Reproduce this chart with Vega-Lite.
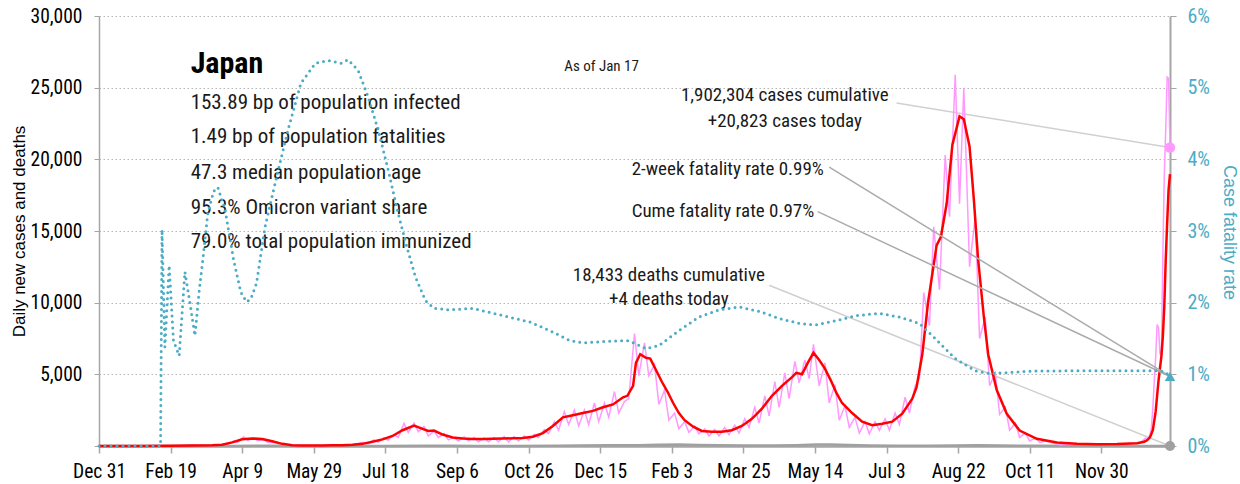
{
  "$schema": "https://vega.github.io/schema/vega-lite/v6.json",
  "width": 1071,
  "height": 430,
  "autosize": "none",
  "padding": {"left": 99, "top": 16, "right": 70, "bottom": 38},
  "background": "white",
  "config": {
    "view": {"stroke": null},
    "font": "Roboto Condensed",
    "axis": {"labelFont": "Roboto Condensed", "titleFont": "Liberation Sans"}
  },
  "datasets": {
    "avg": [
      {"date": "2019-12-31", "value": 0},
      {"date": "2020-01-29", "value": 1},
      {"date": "2020-02-19", "value": 10},
      {"date": "2020-03-05", "value": 35},
      {"date": "2020-03-19", "value": 45},
      {"date": "2020-03-26", "value": 90},
      {"date": "2020-04-02", "value": 250},
      {"date": "2020-04-09", "value": 470},
      {"date": "2020-04-16", "value": 520},
      {"date": "2020-04-23", "value": 490},
      {"date": "2020-04-30", "value": 330},
      {"date": "2020-05-07", "value": 150},
      {"date": "2020-05-14", "value": 60},
      {"date": "2020-05-21", "value": 35},
      {"date": "2020-05-28", "value": 30},
      {"date": "2020-06-04", "value": 40},
      {"date": "2020-06-11", "value": 45},
      {"date": "2020-06-18", "value": 50},
      {"date": "2020-06-25", "value": 80},
      {"date": "2020-07-02", "value": 150},
      {"date": "2020-07-09", "value": 300},
      {"date": "2020-07-16", "value": 460},
      {"date": "2020-07-23", "value": 700},
      {"date": "2020-07-30", "value": 1100},
      {"date": "2020-08-07", "value": 1420},
      {"date": "2020-08-13", "value": 1200},
      {"date": "2020-08-17", "value": 1050},
      {"date": "2020-08-21", "value": 1080},
      {"date": "2020-08-27", "value": 800},
      {"date": "2020-09-03", "value": 600},
      {"date": "2020-09-10", "value": 520},
      {"date": "2020-09-17", "value": 480},
      {"date": "2020-09-24", "value": 480},
      {"date": "2020-10-01", "value": 500},
      {"date": "2020-10-08", "value": 520},
      {"date": "2020-10-15", "value": 540},
      {"date": "2020-10-22", "value": 560},
      {"date": "2020-10-29", "value": 650},
      {"date": "2020-11-05", "value": 900},
      {"date": "2020-11-12", "value": 1400},
      {"date": "2020-11-19", "value": 2000},
      {"date": "2020-11-26", "value": 2150},
      {"date": "2020-12-03", "value": 2300},
      {"date": "2020-12-10", "value": 2450},
      {"date": "2020-12-17", "value": 2700},
      {"date": "2020-12-24", "value": 2900},
      {"date": "2020-12-31", "value": 3400},
      {"date": "2021-01-03", "value": 3500},
      {"date": "2021-01-07", "value": 4200},
      {"date": "2021-01-09", "value": 5800},
      {"date": "2021-01-12", "value": 6400},
      {"date": "2021-01-16", "value": 6150},
      {"date": "2021-01-19", "value": 6100},
      {"date": "2021-01-23", "value": 5300},
      {"date": "2021-01-27", "value": 4500},
      {"date": "2021-01-31", "value": 3800},
      {"date": "2021-02-04", "value": 3000},
      {"date": "2021-02-08", "value": 2300},
      {"date": "2021-02-12", "value": 1800},
      {"date": "2021-02-18", "value": 1350},
      {"date": "2021-02-24", "value": 1050},
      {"date": "2021-03-03", "value": 1000},
      {"date": "2021-03-10", "value": 1000},
      {"date": "2021-03-17", "value": 1100},
      {"date": "2021-03-24", "value": 1400},
      {"date": "2021-03-31", "value": 1900},
      {"date": "2021-04-07", "value": 2600},
      {"date": "2021-04-14", "value": 3500},
      {"date": "2021-04-21", "value": 4200},
      {"date": "2021-04-28", "value": 4800},
      {"date": "2021-05-01", "value": 5100},
      {"date": "2021-05-05", "value": 5000},
      {"date": "2021-05-09", "value": 5800},
      {"date": "2021-05-13", "value": 6500},
      {"date": "2021-05-17", "value": 6000},
      {"date": "2021-05-21", "value": 5400},
      {"date": "2021-05-25", "value": 4600},
      {"date": "2021-05-29", "value": 3700},
      {"date": "2021-06-02", "value": 3000},
      {"date": "2021-06-09", "value": 2300},
      {"date": "2021-06-16", "value": 1700},
      {"date": "2021-06-23", "value": 1450},
      {"date": "2021-06-30", "value": 1550},
      {"date": "2021-07-07", "value": 1700},
      {"date": "2021-07-14", "value": 2250},
      {"date": "2021-07-21", "value": 3300},
      {"date": "2021-07-24", "value": 4100},
      {"date": "2021-07-28", "value": 6400},
      {"date": "2021-08-01", "value": 10000},
      {"date": "2021-08-07", "value": 14000},
      {"date": "2021-08-10", "value": 14600},
      {"date": "2021-08-14", "value": 16900},
      {"date": "2021-08-18", "value": 21000},
      {"date": "2021-08-23", "value": 23000},
      {"date": "2021-08-26", "value": 22800},
      {"date": "2021-08-30", "value": 20900},
      {"date": "2021-09-02", "value": 17200},
      {"date": "2021-09-05", "value": 13000},
      {"date": "2021-09-09", "value": 9000},
      {"date": "2021-09-12", "value": 6400},
      {"date": "2021-09-18", "value": 3900},
      {"date": "2021-09-25", "value": 2250},
      {"date": "2021-10-04", "value": 1080},
      {"date": "2021-10-16", "value": 500},
      {"date": "2021-10-30", "value": 250},
      {"date": "2021-11-13", "value": 150},
      {"date": "2021-11-27", "value": 120},
      {"date": "2021-12-11", "value": 140},
      {"date": "2021-12-25", "value": 200},
      {"date": "2021-12-30", "value": 300},
      {"date": "2022-01-01", "value": 400},
      {"date": "2022-01-03", "value": 600},
      {"date": "2022-01-05", "value": 1100},
      {"date": "2022-01-07", "value": 2410},
      {"date": "2022-01-08", "value": 3511},
      {"date": "2022-01-09", "value": 4586},
      {"date": "2022-01-10", "value": 5436},
      {"date": "2022-01-11", "value": 6276},
      {"date": "2022-01-12", "value": 7640},
      {"date": "2022-01-13", "value": 9698},
      {"date": "2022-01-14", "value": 12925},
      {"date": "2022-01-15", "value": 15535},
      {"date": "2022-01-16", "value": 17880},
      {"date": "2022-01-17", "value": 18964}
    ],
    "daily": [
      {"date": "2019-12-31", "value": 0},
      {"date": "2020-01-16", "value": 1},
      {"date": "2020-02-14", "value": 8},
      {"date": "2020-02-28", "value": 20},
      {"date": "2020-03-06", "value": 55},
      {"date": "2020-03-13", "value": 50},
      {"date": "2020-03-20", "value": 40},
      {"date": "2020-03-27", "value": 120},
      {"date": "2020-03-30", "value": 90},
      {"date": "2020-04-03", "value": 350},
      {"date": "2020-04-06", "value": 250},
      {"date": "2020-04-10", "value": 650},
      {"date": "2020-04-13", "value": 380},
      {"date": "2020-04-17", "value": 580},
      {"date": "2020-04-20", "value": 370},
      {"date": "2020-04-24", "value": 440},
      {"date": "2020-04-27", "value": 250},
      {"date": "2020-05-01", "value": 260},
      {"date": "2020-05-11", "value": 60},
      {"date": "2020-05-25", "value": 25},
      {"date": "2020-06-12", "value": 60},
      {"date": "2020-06-26", "value": 100},
      {"date": "2020-07-03", "value": 250},
      {"date": "2020-07-06", "value": 150},
      {"date": "2020-07-10", "value": 430},
      {"date": "2020-07-13", "value": 250},
      {"date": "2020-07-17", "value": 590},
      {"date": "2020-07-20", "value": 420},
      {"date": "2020-07-24", "value": 770},
      {"date": "2020-07-27", "value": 600},
      {"date": "2020-07-31", "value": 1580},
      {"date": "2020-08-03", "value": 950},
      {"date": "2020-08-07", "value": 1600},
      {"date": "2020-08-10", "value": 1000},
      {"date": "2020-08-14", "value": 1360},
      {"date": "2020-08-17", "value": 700},
      {"date": "2020-08-21", "value": 1040},
      {"date": "2020-08-24", "value": 600},
      {"date": "2020-08-28", "value": 870},
      {"date": "2020-08-31", "value": 430},
      {"date": "2020-09-04", "value": 600},
      {"date": "2020-09-07", "value": 350},
      {"date": "2020-09-11", "value": 650},
      {"date": "2020-09-14", "value": 350},
      {"date": "2020-09-18", "value": 590},
      {"date": "2020-09-21", "value": 300},
      {"date": "2020-09-25", "value": 560},
      {"date": "2020-09-28", "value": 300},
      {"date": "2020-10-02", "value": 600},
      {"date": "2020-10-05", "value": 300},
      {"date": "2020-10-09", "value": 660},
      {"date": "2020-10-12", "value": 290},
      {"date": "2020-10-16", "value": 660},
      {"date": "2020-10-19", "value": 350},
      {"date": "2020-10-23", "value": 700},
      {"date": "2020-10-26", "value": 420},
      {"date": "2020-10-30", "value": 810},
      {"date": "2020-11-02", "value": 600},
      {"date": "2020-11-06", "value": 1150},
      {"date": "2020-11-09", "value": 870},
      {"date": "2020-11-13", "value": 1700},
      {"date": "2020-11-16", "value": 1100},
      {"date": "2020-11-20", "value": 2400},
      {"date": "2020-11-23", "value": 1500},
      {"date": "2020-11-27", "value": 2500},
      {"date": "2020-11-30", "value": 1400},
      {"date": "2020-12-04", "value": 2500},
      {"date": "2020-12-07", "value": 1500},
      {"date": "2020-12-11", "value": 3000},
      {"date": "2020-12-14", "value": 1700},
      {"date": "2020-12-18", "value": 3000},
      {"date": "2020-12-21", "value": 2000},
      {"date": "2020-12-25", "value": 3800},
      {"date": "2020-12-28", "value": 2300},
      {"date": "2021-01-01", "value": 3100},
      {"date": "2021-01-04", "value": 3300},
      {"date": "2021-01-08", "value": 7850},
      {"date": "2021-01-11", "value": 4900},
      {"date": "2021-01-15", "value": 7200},
      {"date": "2021-01-18", "value": 4900},
      {"date": "2021-01-22", "value": 5700},
      {"date": "2021-01-25", "value": 2900},
      {"date": "2021-01-29", "value": 3900},
      {"date": "2021-02-01", "value": 1800},
      {"date": "2021-02-05", "value": 2300},
      {"date": "2021-02-08", "value": 1200},
      {"date": "2021-02-12", "value": 1700},
      {"date": "2021-02-15", "value": 950},
      {"date": "2021-02-19", "value": 1400},
      {"date": "2021-02-22", "value": 850},
      {"date": "2021-02-26", "value": 1200},
      {"date": "2021-03-01", "value": 700},
      {"date": "2021-03-05", "value": 1150},
      {"date": "2021-03-08", "value": 700},
      {"date": "2021-03-12", "value": 1300},
      {"date": "2021-03-15", "value": 800},
      {"date": "2021-03-19", "value": 1450},
      {"date": "2021-03-22", "value": 900},
      {"date": "2021-03-26", "value": 1900},
      {"date": "2021-03-29", "value": 1300},
      {"date": "2021-04-02", "value": 2700},
      {"date": "2021-04-05", "value": 1600},
      {"date": "2021-04-09", "value": 3500},
      {"date": "2021-04-12", "value": 2100},
      {"date": "2021-04-16", "value": 4500},
      {"date": "2021-04-19", "value": 2700},
      {"date": "2021-04-23", "value": 5100},
      {"date": "2021-04-26", "value": 3300},
      {"date": "2021-04-30", "value": 5900},
      {"date": "2021-05-03", "value": 4400},
      {"date": "2021-05-07", "value": 6000},
      {"date": "2021-05-10", "value": 4700},
      {"date": "2021-05-13", "value": 7100},
      {"date": "2021-05-17", "value": 4200},
      {"date": "2021-05-21", "value": 5800},
      {"date": "2021-05-24", "value": 3000},
      {"date": "2021-05-28", "value": 4300},
      {"date": "2021-05-31", "value": 1800},
      {"date": "2021-06-04", "value": 2800},
      {"date": "2021-06-07", "value": 1300},
      {"date": "2021-06-11", "value": 2000},
      {"date": "2021-06-14", "value": 900},
      {"date": "2021-06-18", "value": 1700},
      {"date": "2021-06-21", "value": 850},
      {"date": "2021-06-25", "value": 1700},
      {"date": "2021-06-28", "value": 1100},
      {"date": "2021-07-02", "value": 1900},
      {"date": "2021-07-05", "value": 1100},
      {"date": "2021-07-09", "value": 2300},
      {"date": "2021-07-12", "value": 1500},
      {"date": "2021-07-16", "value": 3400},
      {"date": "2021-07-19", "value": 2300},
      {"date": "2021-07-23", "value": 4200},
      {"date": "2021-07-26", "value": 4700},
      {"date": "2021-07-29", "value": 10700},
      {"date": "2021-08-02", "value": 8400},
      {"date": "2021-08-05", "value": 15300},
      {"date": "2021-08-09", "value": 10900},
      {"date": "2021-08-13", "value": 20300},
      {"date": "2021-08-16", "value": 16000},
      {"date": "2021-08-20", "value": 25900},
      {"date": "2021-08-23", "value": 16900},
      {"date": "2021-08-26", "value": 25000},
      {"date": "2021-08-30", "value": 12500},
      {"date": "2021-09-03", "value": 16000},
      {"date": "2021-09-06", "value": 7500},
      {"date": "2021-09-10", "value": 9000},
      {"date": "2021-09-13", "value": 4200},
      {"date": "2021-09-17", "value": 5100},
      {"date": "2021-09-20", "value": 2200},
      {"date": "2021-09-24", "value": 2700},
      {"date": "2021-09-27", "value": 1100},
      {"date": "2021-10-01", "value": 1600},
      {"date": "2021-10-04", "value": 600},
      {"date": "2021-10-08", "value": 900},
      {"date": "2021-10-11", "value": 350},
      {"date": "2021-10-15", "value": 550},
      {"date": "2021-10-18", "value": 250},
      {"date": "2021-10-22", "value": 340},
      {"date": "2021-11-01", "value": 90},
      {"date": "2021-11-19", "value": 150},
      {"date": "2021-12-10", "value": 120},
      {"date": "2021-12-24", "value": 200},
      {"date": "2021-12-27", "value": 200},
      {"date": "2021-12-31", "value": 550},
      {"date": "2022-01-01", "value": 450},
      {"date": "2022-01-03", "value": 782},
      {"date": "2022-01-04", "value": 1265},
      {"date": "2022-01-05", "value": 2638},
      {"date": "2022-01-06", "value": 4475},
      {"date": "2022-01-07", "value": 6214},
      {"date": "2022-01-08", "value": 8480},
      {"date": "2022-01-09", "value": 8249},
      {"date": "2022-01-10", "value": 6438},
      {"date": "2022-01-11", "value": 6378},
      {"date": "2022-01-12", "value": 13244},
      {"date": "2022-01-13", "value": 18860},
      {"date": "2022-01-14", "value": 22045},
      {"date": "2022-01-15", "value": 25742},
      {"date": "2022-01-16", "value": 25655},
      {"date": "2022-01-17", "value": 20823}
    ],
    "deaths": [
      {"date": "2019-12-31", "value": 0},
      {"date": "2020-04-01", "value": 2},
      {"date": "2020-04-20", "value": 20},
      {"date": "2020-05-05", "value": 25},
      {"date": "2020-05-20", "value": 8},
      {"date": "2020-06-15", "value": 2},
      {"date": "2020-07-15", "value": 1},
      {"date": "2020-08-15", "value": 10},
      {"date": "2020-09-01", "value": 15},
      {"date": "2020-09-20", "value": 8},
      {"date": "2020-10-15", "value": 6},
      {"date": "2020-11-15", "value": 10},
      {"date": "2020-12-01", "value": 30},
      {"date": "2020-12-20", "value": 45},
      {"date": "2021-01-10", "value": 60},
      {"date": "2021-01-25", "value": 90},
      {"date": "2021-02-08", "value": 100},
      {"date": "2021-02-22", "value": 70},
      {"date": "2021-03-08", "value": 45},
      {"date": "2021-03-25", "value": 30},
      {"date": "2021-04-15", "value": 30},
      {"date": "2021-05-01", "value": 60},
      {"date": "2021-05-15", "value": 100},
      {"date": "2021-05-25", "value": 110},
      {"date": "2021-06-07", "value": 70},
      {"date": "2021-06-21", "value": 30},
      {"date": "2021-07-10", "value": 15},
      {"date": "2021-08-01", "value": 10},
      {"date": "2021-08-20", "value": 30},
      {"date": "2021-09-05", "value": 60},
      {"date": "2021-09-20", "value": 40},
      {"date": "2021-10-05", "value": 20},
      {"date": "2021-10-20", "value": 10},
      {"date": "2021-11-15", "value": 3},
      {"date": "2021-12-15", "value": 2},
      {"date": "2022-01-10", "value": 2},
      {"date": "2022-01-17", "value": 4}
    ],
    "cfr": [
      {"date": "2019-12-31", "value": 0},
      {"date": "2020-02-12", "value": 0},
      {"date": "2020-02-13", "value": 0.0302},
      {"date": "2020-02-15", "value": 0.0138},
      {"date": "2020-02-18", "value": 0.0252},
      {"date": "2020-02-21", "value": 0.0147},
      {"date": "2020-02-25", "value": 0.0126},
      {"date": "2020-02-29", "value": 0.0243},
      {"date": "2020-03-03", "value": 0.0206},
      {"date": "2020-03-07", "value": 0.0154},
      {"date": "2020-03-10", "value": 0.0217},
      {"date": "2020-03-13", "value": 0.0269},
      {"date": "2020-03-16", "value": 0.0325},
      {"date": "2020-03-20", "value": 0.0355},
      {"date": "2020-03-23", "value": 0.0361},
      {"date": "2020-03-28", "value": 0.033},
      {"date": "2020-04-03", "value": 0.026},
      {"date": "2020-04-08", "value": 0.0215},
      {"date": "2020-04-12", "value": 0.0201},
      {"date": "2020-04-15", "value": 0.0205},
      {"date": "2020-04-19", "value": 0.0227},
      {"date": "2020-04-25", "value": 0.0306},
      {"date": "2020-05-03", "value": 0.0375},
      {"date": "2020-05-11", "value": 0.0441},
      {"date": "2020-05-20", "value": 0.0506},
      {"date": "2020-05-30", "value": 0.0534},
      {"date": "2020-06-08", "value": 0.0538},
      {"date": "2020-06-17", "value": 0.0534},
      {"date": "2020-06-22", "value": 0.0539},
      {"date": "2020-06-29", "value": 0.0524},
      {"date": "2020-07-06", "value": 0.0487},
      {"date": "2020-07-13", "value": 0.0441},
      {"date": "2020-07-20", "value": 0.0385},
      {"date": "2020-07-27", "value": 0.0324},
      {"date": "2020-08-02", "value": 0.0278},
      {"date": "2020-08-08", "value": 0.0236},
      {"date": "2020-08-15", "value": 0.0203},
      {"date": "2020-08-21", "value": 0.0192},
      {"date": "2020-09-01", "value": 0.019},
      {"date": "2020-09-17", "value": 0.0192},
      {"date": "2020-10-08", "value": 0.0182},
      {"date": "2020-10-27", "value": 0.0173},
      {"date": "2020-11-12", "value": 0.0159},
      {"date": "2020-11-24", "value": 0.0147},
      {"date": "2020-12-03", "value": 0.0144},
      {"date": "2020-12-19", "value": 0.0146},
      {"date": "2021-01-04", "value": 0.0147},
      {"date": "2021-01-16", "value": 0.0136},
      {"date": "2021-01-25", "value": 0.014},
      {"date": "2021-02-08", "value": 0.0161},
      {"date": "2021-02-22", "value": 0.018},
      {"date": "2021-03-08", "value": 0.019},
      {"date": "2021-03-22", "value": 0.0194},
      {"date": "2021-04-05", "value": 0.0188},
      {"date": "2021-04-19", "value": 0.0178},
      {"date": "2021-05-03", "value": 0.0171},
      {"date": "2021-05-15", "value": 0.0169},
      {"date": "2021-05-29", "value": 0.0175},
      {"date": "2021-06-12", "value": 0.0182},
      {"date": "2021-06-28", "value": 0.0185},
      {"date": "2021-07-12", "value": 0.018},
      {"date": "2021-07-26", "value": 0.0171},
      {"date": "2021-08-06", "value": 0.015},
      {"date": "2021-08-20", "value": 0.0122},
      {"date": "2021-09-03", "value": 0.0105},
      {"date": "2021-09-13", "value": 0.0101},
      {"date": "2021-09-22", "value": 0.0102},
      {"date": "2021-10-13", "value": 0.01045},
      {"date": "2021-11-15", "value": 0.0105},
      {"date": "2022-01-10", "value": 0.0105},
      {"date": "2022-01-14", "value": 0.0103},
      {"date": "2022-01-17", "value": 0.0097}
    ]
  },
  "encoding": {
    "x": {
      "field": "date",
      "type": "temporal",
      "title": null,
      "scale": {
        "type": "utc",
        "nice": false,
        "domain": [
          {"year": 2019, "month": 12, "date": 31, "utc": true},
          {"year": 2022, "month": 1, "date": 17, "utc": true}
        ]
      },
      "axis": {
        "values": [
          {"year": 2019, "month": 12, "date": 31, "utc": true},
          {"year": 2020, "month": 2, "date": 19, "utc": true},
          {"year": 2020, "month": 4, "date": 9, "utc": true},
          {"year": 2020, "month": 5, "date": 29, "utc": true},
          {"year": 2020, "month": 7, "date": 18, "utc": true},
          {"year": 2020, "month": 9, "date": 6, "utc": true},
          {"year": 2020, "month": 10, "date": 26, "utc": true},
          {"year": 2020, "month": 12, "date": 15, "utc": true},
          {"year": 2021, "month": 2, "date": 3, "utc": true},
          {"year": 2021, "month": 3, "date": 25, "utc": true},
          {"year": 2021, "month": 5, "date": 14, "utc": true},
          {"year": 2021, "month": 7, "date": 3, "utc": true},
          {"year": 2021, "month": 8, "date": 22, "utc": true},
          {"year": 2021, "month": 10, "date": 11, "utc": true},
          {"year": 2021, "month": 11, "date": 30, "utc": true}
        ],
        "labelExpr": "utcFormat(datum.value, '%b %-d')",
        "grid": false,
        "domainColor": "#a6a6a6",
        "domainWidth": 2.5,
        "tickColor": "#a6a6a6",
        "tickWidth": 1.5,
        "tickSize": 7,
        "labelFontSize": 19.5,
        "labelColor": "#000000",
        "labelPadding": 9,
        "labelFlush": false,
        "labelOverlap": false
      }
    }
  },
  "layer": [
    {
      "encoding": {
        "y": {
          "field": "value",
          "type": "quantitative",
          "scale": {"domain": [0, 30000], "nice": false, "zero": true},
          "axis": {
            "values": [0, 5000, 10000, 15000, 20000, 25000, 30000],
            "labelExpr": "datum.value == 0 ? '' : format(datum.value, ',')",
            "title": "Daily new cases and deaths",
            "titleFontSize": 17,
            "titleFontWeight": "normal",
            "titleColor": "#000000",
            "titleX": -80,
            "titleY": 215,
            "titleAngle": -90,
            "titleAlign": "center",
            "titleBaseline": "middle",
            "labelFontSize": 19.5,
            "labelColor": "#000000",
            "labelPadding": 12,
            "tickColor": "#a6a6a6",
            "tickSize": 5,
            "domainColor": "#a6a6a6",
            "domainWidth": 1.5,
            "grid": true,
            "gridColor": "#b5b5b5",
            "gridDash": [1.5, 2.5],
            "gridWidth": 1
          }
        }
      },
      "layer": [
        {
          "data": {"values": [
            {"date": "2021-07-10", "value": 23924, "date2": "2022-01-17", "value2": 20823},
            {"date": "2021-04-12", "value": 11211, "date2": "2022-01-17", "value2": 0}
          ]},
          "mark": {"type": "rule", "color": "#d0d0d0", "strokeWidth": 1.5},
          "encoding": {"x2": {"field": "date2"}, "y2": {"field": "value2"}}
        },
        {
          "data": {"name": "deaths"},
          "mark": {"type": "line", "color": "#a0a0a0", "strokeWidth": 2.5},
          "encoding": {}
        },
        {
          "data": {"name": "daily"},
          "mark": {"type": "line", "color": "#ff99ff", "strokeWidth": 1.5},
          "encoding": {}
        },
        {
          "data": {"name": "avg"},
          "mark": {"type": "line", "color": "#ff0000", "strokeWidth": 2.5},
          "encoding": {}
        },
        {
          "data": {"values": [{"date": "2020-03-04", "value": 26000, "label": "Japan"}]},
          "mark": {"type": "text", "align": "left", "baseline": "alphabetic", "fontSize": 30, "fontWeight": "bold", "color": "#000000"},
          "encoding": {"text": {"field": "label"}}
        },
        {
          "data": {"values": [
            {"date": "2020-03-04", "value": 23480, "label": "153.89 bp of population infected"},
            {"date": "2020-03-04", "value": 21110, "label": "1.49 bp of population fatalities"},
            {"date": "2020-03-04", "value": 18660, "label": "47.3 median population age"},
            {"date": "2020-03-04", "value": 16220, "label": "95.3% Omicron variant share"},
            {"date": "2020-03-04", "value": 13780, "label": "79.0% total population immunized"}
          ]},
          "mark": {"type": "text", "align": "left", "baseline": "alphabetic", "fontSize": 21, "color": "#1a1a1a"},
          "encoding": {"text": {"field": "label"}}
        },
        {
          "data": {"values": [{"date": "2020-12-16", "value": 26160, "label": "As of Jan 17"}]},
          "mark": {"type": "text", "align": "center", "baseline": "alphabetic", "fontSize": 15, "color": "#1a1a1a"},
          "encoding": {"text": {"field": "label"}}
        },
        {
          "data": {"values": [
            {"date": "2021-04-23", "value": 24064, "label": "1,902,304 cases cumulative"},
            {"date": "2021-04-23", "value": 22250, "label": "+20,823 cases today"},
            {"date": "2021-02-01", "value": 11490, "label": "18,433 deaths cumulative"},
            {"date": "2021-02-01", "value": 9814, "label": "+4 deaths today"}
          ]},
          "mark": {"type": "text", "align": "center", "baseline": "alphabetic", "fontSize": 19, "color": "#1a1a1a"},
          "encoding": {"text": {"field": "label"}}
        },
        {
          "data": {"values": [
            {"date": "2021-01-06", "value": 18900, "label": "2-week fatality rate 0.99%"},
            {"date": "2021-01-06", "value": 15990, "label": "Cume fatality rate 0.97%"}
          ]},
          "mark": {"type": "text", "align": "left", "baseline": "alphabetic", "fontSize": 19, "color": "#1a1a1a"},
          "encoding": {"text": {"field": "label"}}
        },
        {
          "data": {"values": [{"date": "2022-01-17", "value": 20823}]},
          "mark": {"type": "point", "filled": true, "opacity": 1, "size": 110, "shape": "circle", "color": "#ff99ff"},
          "encoding": {}
        },
        {
          "data": {"values": [{"date": "2022-01-17", "value": 4}]},
          "mark": {"type": "point", "filled": true, "opacity": 1, "size": 100, "shape": "circle", "color": "#a0a0a0"},
          "encoding": {}
        }
      ]
    },
    {
      "encoding": {
        "y": {
          "field": "value",
          "type": "quantitative",
          "scale": {"domain": [0, 0.06], "nice": false, "zero": true},
          "axis": {
            "orient": "right",
            "values": [0, 0.01, 0.02, 0.03, 0.04, 0.05, 0.06],
            "format": ".0%",
            "title": "Case fatality rate",
            "titleFontSize": 18,
            "titleFontWeight": "normal",
            "titleColor": "#4bacc6",
            "titleX": 58,
            "titleY": 216,
            "titleAngle": 90,
            "titleAlign": "center",
            "titleBaseline": "middle",
            "labelFontSize": 20,
            "labelColor": "#4bacc6",
            "labelPadding": 11,
            "tickColor": "#a6a6a6",
            "tickSize": 6,
            "domainColor": "#a6a6a6",
            "domainWidth": 2,
            "grid": false
          }
        }
      },
      "layer": [
        {
          "data": {"values": [
            {"date": "2021-05-24", "value": 0.0389, "date2": "2022-01-17", "value2": 0.0097},
            {"date": "2021-05-16", "value": 0.0327, "date2": "2022-01-17", "value2": 0.0097}
          ]},
          "mark": {"type": "rule", "color": "#ababab", "strokeWidth": 1.5},
          "encoding": {"x2": {"field": "date2"}, "y2": {"field": "value2"}}
        },
        {
          "data": {"name": "cfr"},
          "mark": {"type": "line", "color": "#4bacc6", "strokeWidth": 3, "strokeDash": [0, 6], "strokeCap": "round"},
          "encoding": {}
        },
        {
          "data": {"values": [{"date": "2022-01-17", "value": 0.0097}]},
          "mark": {"type": "point", "filled": true, "opacity": 1, "size": 110, "shape": "triangle-up", "color": "#4bacc6"},
          "encoding": {}
        }
      ]
    }
  ],
  "resolve": {"scale": {"y": "independent"}, "axis": {"y": "independent"}}
}
